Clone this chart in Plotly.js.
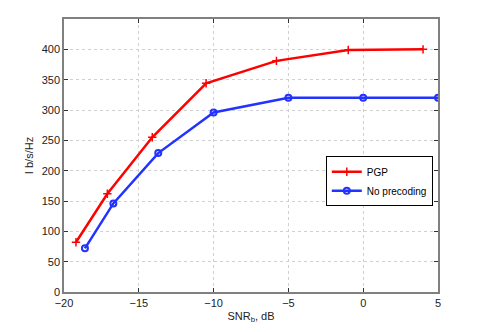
<!DOCTYPE html>
<html>
<head>
<meta charset="utf-8">
<script src="https://cdn.plot.ly/plotly-3.0.1.min.js"></script>
<style>body{margin:0;background:#fff}</style>
</head>
<body>
<div id="chart" style="width:485px;height:332px"></div>
<script>
var pgpSnr = [-19.2, -17.1, -14.1, -10.5, -5.8, -1, 4];
var pgpRate = [82, 162, 255, 344, 381, 399, 400];
var noPrecSnr = [-18.6, -16.7, -13.7, -10, -5, 0, 5];
var noPrecRate = [72, 146, 229, 296, 320, 320, 320];
var xTicks = [-20, -15, -10, -5, 0, 5];
var yTicks = [0, 50, 100, 150, 200, 250, 300, 350, 400];

var font = 'Liberation Sans Narrow, Liberation Sans, Arial, sans-serif';

var pgp = {
  x: pgpSnr, y: pgpRate, type: 'scatter', mode: 'lines+markers', name: 'PGP',
  line: {color: '#ff0000', width: 2.5},
  marker: {symbol: 'cross-thin-open', size: 6, line: {color: '#ff0000', width: 1.5}}
};
var noPrec = {
  x: noPrecSnr, y: noPrecRate, type: 'scatter', mode: 'lines+markers', name: 'No precoding',
  line: {color: '#2233ff', width: 2.5},
  marker: {symbol: 'circle-open', size: 6, line: {color: '#2233ff', width: 2}}
};

var axisCommon = {
  showline: true, mirror: 'ticks', linecolor: '#808080', linewidth: 1.5,
  ticks: 'inside', ticklen: 4, tickcolor: '#333',
  showgrid: true, gridcolor: '#d0d0d0', griddash: 'dot', gridwidth: 1,
  zeroline: false, tickfont: {family: font, size: 11, color: '#222'}
};

var layout = {
  width: 485, height: 332,
  margin: {l: 64, r: 47, t: 19, b: 40},
  paper_bgcolor: '#fff', plot_bgcolor: '#fff',
  font: {family: font, size: 11, color: '#222'},
  xaxis: Object.assign({}, axisCommon, {
    range: [-20, 5], tickvals: xTicks,
    title: {text: 'SNR<sub>b</sub>, dB', font: {family: font, size: 11}, standoff: 4}
  }),
  yaxis: Object.assign({}, axisCommon, {
    range: [0, 450], tickvals: yTicks,
    title: {text: 'I b/s/Hz', font: {family: font, size: 11}, standoff: 6}
  }),
  showlegend: true,
  legend: {
    x: 0.70, y: 0.497, xanchor: 'left', yanchor: 'top',
    bgcolor: '#fff', bordercolor: '#000', borderwidth: 1,
    font: {family: font, size: 10, color: '#000'},
    tracegroupgap: 0, itemwidth: 30
  }
};

Plotly.newPlot('chart', [pgp, noPrec], layout, {displayModeBar: false});
</script>
</body>
</html>
